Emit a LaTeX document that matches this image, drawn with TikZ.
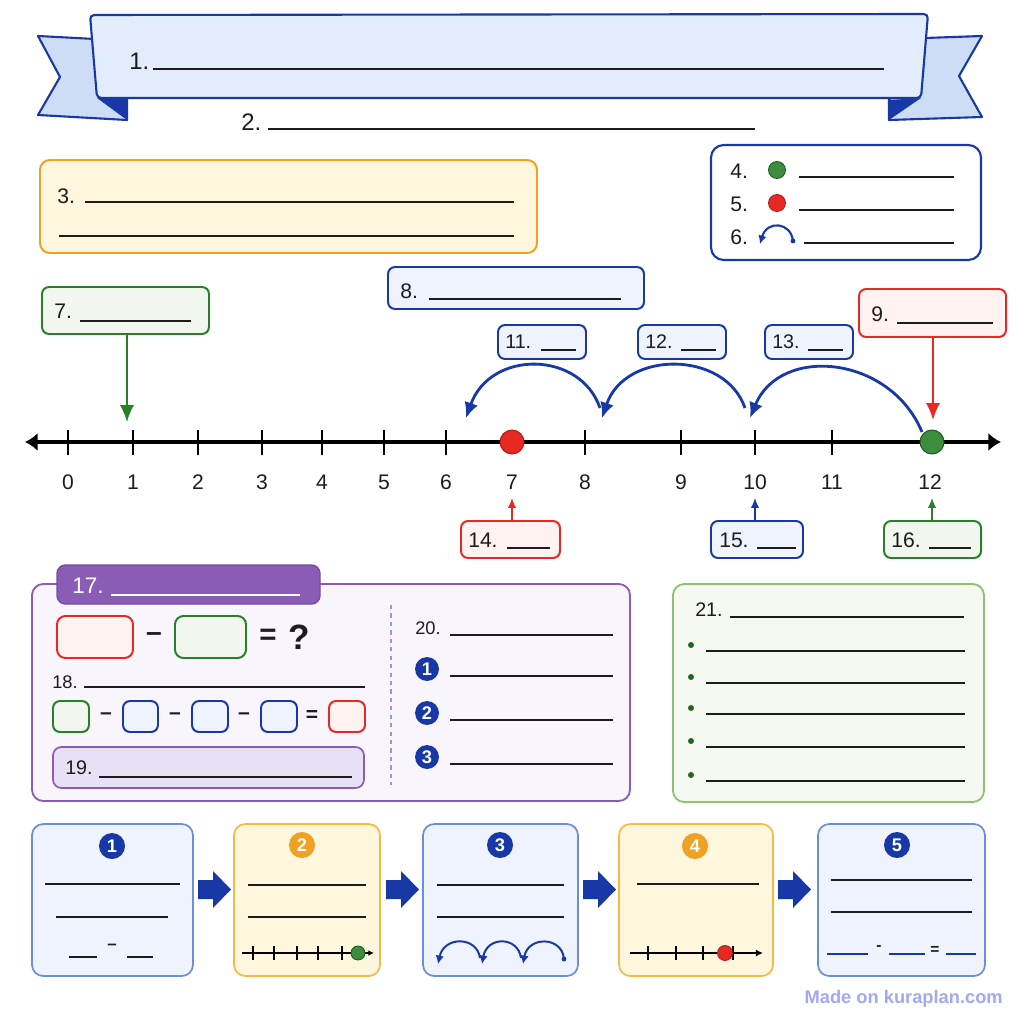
\documentclass[tikz,border=0pt]{standalone}
\usepackage{fontspec}
\setmainfont{Liberation Sans}
\usepackage{xcolor}
\usetikzlibrary{arrows}
\usetikzlibrary{arrows.meta, math, positioning}
\definecolor{myblue}{RGB}{24, 56, 166}
\definecolor{bannerfill}{RGB}{227, 236, 250}
\definecolor{tailfill}{RGB}{204, 221, 245}
\definecolor{myorange}{RGB}{240, 160, 35}
\definecolor{softorange}{RGB}{246, 185, 70}
\definecolor{orangefill}{RGB}{255, 246, 222}
\definecolor{mygreen}{RGB}{40, 128, 40}
\definecolor{greenfill}{RGB}{241, 247, 238}
\definecolor{leafgreen}{RGB}{140, 195, 110}
\definecolor{paperfill}{RGB}{246, 248, 242}
\definecolor{myred}{RGB}{232, 40, 35}
\definecolor{redfill}{RGB}{255, 242, 240}
\definecolor{bluefill}{RGB}{238, 243, 253}
\definecolor{softblue}{RGB}{105, 142, 220}
\definecolor{mypurple}{RGB}{138, 92, 182}
\definecolor{purplefill}{RGB}{248, 245, 252}
\definecolor{purplebar}{RGB}{232, 224, 244}
\definecolor{inkgray}{RGB}{28, 28, 28}
\definecolor{marklilac}{RGB}{163, 168, 245}

\tikzset{
  lbl/.style={anchor=west, inner sep=0pt, text=inkgray, font=\fontsize{15}{18}\selectfont},
  numlbl/.style={inner sep=0pt, text=inkgray, font=\fontsize{15}{18}\selectfont},
  blankline/.style={line width=1.1pt, draw=inkgray},
  bluebox/.style={draw=myblue, fill=bluefill, line width=1.4pt, rounded corners=5pt},
  greenbox/.style={draw=mygreen, fill=greenfill, line width=1.4pt, rounded corners=5pt},
  redbox/.style={draw=myred, fill=redfill, line width=1.4pt, rounded corners=5pt},
  orangebox/.style={draw=myorange, fill=orangefill, line width=1.4pt, rounded corners=7pt},
  stepblue/.style={draw=softblue, fill=bluefill, line width=1.2pt, rounded corners=8pt},
  steporange/.style={draw=softorange, fill=orangefill, line width=1.2pt, rounded corners=8pt},
  numcirc/.style={circle, fill=myblue, text=white, inner sep=0pt, minimum size=17pt,
    font=\bfseries\fontsize{13}{15}\selectfont},
  jump/.style={draw=myblue, line width=2pt, -{Latex[length=11pt,width=10pt]}},
  pointer/.style={line width=1.3pt, -{Latex[length=12pt,width=10pt]}},
  smallpointer/.style={line width=1.1pt, -{Latex[length=7pt,width=6pt]}},
  opsign/.style={inner sep=0pt, text=inkgray, font=\bfseries\fontsize{15}{18}\selectfont},
}

\begin{document}
\begin{tikzpicture}[x=0.025cm, y=-0.025cm]
\tikzmath{
\ly=442;
\by=482;
}
\useasboundingbox (0,0) rectangle (1024,1024);
\fill[white] (0,0) rectangle (1024,1024);

% banner
\filldraw[fill=tailfill, draw=myblue, line width=1.5pt, line join=round]
  (38,36) -- (95,39) -- (127,99) -- (127,120) -- (38,115) -- (60,77) -- cycle;
\filldraw[fill=tailfill, draw=myblue, line width=1.5pt, line join=round]
  (982,36) -- (925,38) -- (889,100) -- (889,120) -- (982,117) -- (959,76) -- cycle;
\filldraw[fill=bannerfill, draw=myblue, line width=1.5pt, rounded corners=3pt]
  (90,15) -- (928,14) -- (921,98) -- (97,98) -- cycle;
\fill[myblue] (97,98) -- (127,99) -- (127,120) -- cycle;
\fill[myblue] (921,98) -- (889,100) -- (889,120) -- cycle;
\node[lbl, font=\fontsize{17}{20}\selectfont] (t1) at (129,61) {1.};
\draw[blankline] (153,69) -- (884,69);
\node[lbl, font=\fontsize{17}{20}\selectfont] (t2) at (241,122) {2.};
\draw[blankline] (268,129) -- (755,129);

% box 3
\draw[orangebox] (40,160) rectangle (537,253);
\node[lbl] (t3) at (57,196) {3.};
\draw[blankline] (85,202) -- (514,202);
\draw[blankline] (59,236) -- (514,236);

% legend
\draw[draw=myblue, fill=white, line width=1.5pt, rounded corners=9pt] (711,145) rectangle (981,260);
\node[lbl] (t4) at (730,171) {4.};
\filldraw[fill=mygreen!90, draw=mygreen!70!black, line width=0.6pt] (777,170) circle (8.5);
\draw[blankline] (799,177) -- (954,177);
\node[lbl] (t5) at (730,204) {5.};
\filldraw[fill=myred, draw=myred!75!black, line width=0.6pt] (777,203) circle (8.5);
\draw[blankline] (799,210) -- (954,210);
\node[lbl] (t6) at (730,237) {6.};
\draw[myblue, line width=1.5pt, -{Latex[length=6pt,width=6pt]}]
  (793,241) .. controls (791,222) and (767,220) .. (760,244);
\fill[myblue] (793,241) circle (2.4);
\draw[blankline] (804,243) -- (954,243);

% callouts above the line
\draw[bluebox] (388,267) rectangle (644,309);
\node[lbl] (t8) at (400,291) {8.};
\draw[blankline] (429,299) -- (621,299);

\draw[greenbox] (42,287) rectangle (209,334);
\node[lbl] (t7) at (54,311) {7.};
\draw[blankline] (80,321) -- (191,321);

\draw[redbox] (859,289) rectangle (1006,337);
\node[lbl] (t9) at (871,314) {9.};
\draw[blankline] (897,323) -- (993,323);

\foreach \n/\x in {11/498, 12/638, 13/765}{
  \draw[bluebox] (\x,325) rectangle (\x+88,359);
  \node[lbl, font=\fontsize{14}{16}\selectfont] (t\n) at (\x+7,342) {\n.};
  \draw[blankline] (\x+43,350) -- (\x+78,350);
}

% number line
\draw[line width=2.2pt, {Latex[length=9pt,width=13pt]}-{Latex[length=9pt,width=13pt]}] (25,\ly) -- (1001,\ly);
\foreach \x in {68,133,198,262,322,384,446,585,681,755,832}
  \draw[line width=1.6pt] (\x,430) -- (\x,455);
\foreach \n/\x in {0/68,1/133,2/198,3/262,4/322,5/384,6/446,7/512,8/585,9/681,10/755,11/832,12/930}
  \node[numlbl] (n\n) at (\x,\by) {\n};
\coordinate (p1) at (127,422);
\coordinate (p12) at (933,420);
\coordinate (b7) at (127,334);
\coordinate (b9) at (933,337);
\draw[pointer, mygreen] (b7) -- (p1);
\draw[pointer, myred] (b9) -- (p12);

% jumps back
\draw[jump] (922,432) .. controls (890,355) and (780,345) .. (750,418);
\draw[jump] (745,408) .. controls (725,350) and (625,350) .. (602,418);
\draw[jump] (600,408) .. controls (580,350) and (490,350) .. (466,418);

\filldraw[fill=myred, draw=myred!75!black, line width=0.7pt] (512,\ly) circle (12);
\filldraw[fill=mygreen!90, draw=mygreen!70!black, line width=0.7pt] (932,\ly) circle (12);

% callouts below the line
\draw[redbox] (461,521) rectangle (560,558);
\node[lbl] (t14) at (468,540) {14.};
\draw[blankline] (507,548) -- (550,548);
\draw[bluebox] (711,521) rectangle (803,558);
\node[lbl] (t15) at (719,540) {15.};
\draw[blankline] (757,548) -- (796,548);
\draw[greenbox] (884,521) rectangle (981,558);
\node[lbl] (t16) at (891,540) {16.};
\draw[blankline] (929,548) -- (971,548);
\coordinate (b14) at (512,521);
\coordinate (b15) at (755,521);
\coordinate (b16) at (932,521);
\coordinate (a14) at (512,498);
\coordinate (a15) at (755,498);
\coordinate (a16) at (932,498);
\draw[smallpointer, myred] (b14) -- (a14);
\draw[smallpointer, myblue] (b15) -- (a15);
\draw[smallpointer, mygreen] (b16) -- (a16);

% panel 17
\draw[draw=mypurple, fill=purplefill, line width=1.3pt, rounded corners=8pt] (32,584) rectangle (630,801);
\draw[draw=mypurple!85!black, fill=mypurple, line width=1pt, rounded corners=6pt] (57,565) rectangle (320,604);
\node[lbl, text=white, font=\fontsize{16}{18}\selectfont] (t17) at (72,586) {17.};
\draw[line width=1.1pt, white] (111,595) -- (300,595);

\draw[redbox, rounded corners=6pt] (57,616) rectangle (133,658);
\node[opsign, font=\bfseries\fontsize{20}{22}\selectfont] (m1) at (154,637) {–};
\draw[greenbox, rounded corners=6pt] (175,616) rectangle (246,658);
\node[opsign, font=\bfseries\fontsize{21}{24}\selectfont] (eq1) at (268,637) {=};
\node[opsign, font=\bfseries\fontsize{25}{28}\selectfont] (q1) at (299,637) {?};

\node[lbl, font=\fontsize{13}{15}\selectfont] (t18) at (52,682) {18.};
\draw[blankline] (84,687) -- (365,687);
\draw[greenbox] (53,701) rectangle (89,732);
\node[opsign] (m2) at (106,716) {–};
\draw[bluebox] (123,701) rectangle (158,732);
\node[opsign] (m3) at (175,716) {–};
\draw[bluebox] (192,701) rectangle (228,732);
\node[opsign] (m4) at (244,716) {–};
\draw[bluebox] (261,701) rectangle (297,732);
\node[opsign] (eq2) at (312,716) {=};
\draw[redbox] (329,701) rectangle (365,732);

\draw[draw=mypurple, fill=purplebar, line width=1.2pt, rounded corners=6pt] (53,747) rectangle (364,788);
\node[lbl, font=\fontsize{14}{16}\selectfont] (t19) at (65,768) {19.};
\draw[blankline] (99,777) -- (352,777);

\draw[mypurple!70, dashed, line width=1pt] (391,605) -- (391,785);

\node[lbl, font=\fontsize{13}{15}\selectfont] (t20) at (415,628) {20.};
\draw[blankline] (450,635) -- (613,635);
\foreach \n/\y in {1/669, 2/713, 3/757}{
  \node[numcirc] (s\n) at (427,\y) {\n};
  \draw[blankline] (450,\y+7) -- (613,\y+7);
}

% box 21
\draw[draw=leafgreen, fill=paperfill, line width=1.3pt, rounded corners=8pt] (673,584) rectangle (984,802);
\node[lbl, font=\fontsize{14}{16}\selectfont] (t21) at (695,610) {21.};
\draw[blankline] (730,617) -- (964,617);
\foreach \y in {645,677,708,741,775}{
  \fill[mygreen!80!black] (691,\y) circle (3);
  \draw[blankline] (706,\y+6) -- (965,\y+6);
}

% steps
\foreach \xa/\xb/\st in {32/193/stepblue, 234/380/steporange, 423/578/stepblue, 619/773/steporange, 818/985/stepblue}
  \draw[\st] (\xa,824) rectangle (\xb,976);
\foreach \xa in {198,386,583,778}
  \fill[myblue] (\xa,880) -- (\xa+15,880) -- (\xa+15,871) -- (\xa+33,889.5) -- (\xa+15,908) -- (\xa+15,899) -- (\xa,899) -- cycle;
\node[numcirc, minimum size=18.5pt] (c1) at (112,846) {1};
\node[numcirc, minimum size=18.5pt, fill=myorange] (c2) at (302,845) {2};
\node[numcirc, minimum size=18.5pt] (c3) at (500,845) {3};
\node[numcirc, minimum size=18.5pt, fill=myorange] (c4) at (695,846) {4};
\node[numcirc, minimum size=18.5pt] (c5) at (897,845) {5};

% step 1
\draw[blankline] (45,884) -- (180,884);
\draw[blankline] (56,917) -- (168,917);
\draw[blankline] (69,957) -- (97,957);
\node[opsign, font=\bfseries\fontsize{12}{14}\selectfont] (m5) at (112,947) {–};
\draw[blankline] (127,957) -- (153,957);

% step 2
\draw[blankline] (248,885) -- (366,885);
\draw[blankline] (248,917) -- (366,917);
\draw[line width=1pt, -{Latex[length=4pt,width=4pt]}] (242,953) -- (374,953);
\foreach \x in {253,274,297,318,342}
  \draw[line width=0.9pt] (\x,946) -- (\x,960);
\filldraw[fill=mygreen!90, draw=mygreen!70!black, line width=0.6pt] (358,953) circle (7);

% step 3
\draw[blankline] (437,885) -- (564,885);
\draw[blankline] (437,917) -- (564,917);
\draw[myblue, line width=1.4pt, -{Latex[length=6pt,width=6pt]}] (564,959) .. controls (562,936) and (528,936) .. (523,964);
\draw[myblue, line width=1.4pt, -{Latex[length=6pt,width=6pt]}] (521,958) .. controls (518,936) and (487,936) .. (482,964);
\draw[myblue, line width=1.4pt, -{Latex[length=6pt,width=6pt]}] (480,958) .. controls (477,936) and (444,936) .. (438,964);
\fill[myblue] (564,959) circle (2.4);

% step 4
\draw[blankline] (637,884) -- (759,884);
\draw[line width=1pt, -{Latex[length=5pt,width=5pt]}] (630,953) -- (763,953);
\foreach \x in {648,676,703,733}
  \draw[line width=0.9pt] (\x,946) -- (\x,960);
\filldraw[fill=myred, draw=myred!75!black, line width=0.6pt] (725,953) circle (7.5);

% step 5
\draw[blankline] (831,880) -- (972,880);
\draw[blankline] (831,912) -- (972,912);
\draw[line width=1.1pt, myblue] (827,954) -- (868,954);
\node[opsign, font=\bfseries\fontsize{11}{13}\selectfont] (m6) at (879,948) {-};
\draw[line width=1.1pt, myblue] (889,954) -- (925,954);
\node[opsign, font=\bfseries\fontsize{11}{13}\selectfont] (eq3) at (935,950) {=};
\draw[line width=1.1pt, myblue] (946,954) -- (976,954);

\node[anchor=east, inner sep=0pt, text=marklilac, font=\bfseries\fontsize{13}{15}\selectfont] (mark) at (1003,999) {Made on kuraplan.com};
\end{tikzpicture}
\end{document}
